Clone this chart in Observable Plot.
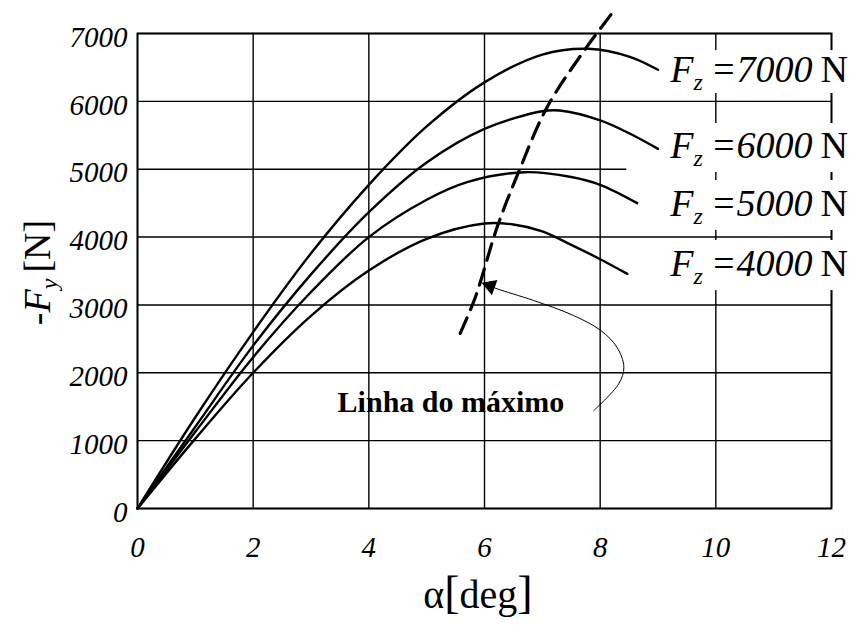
<!DOCTYPE html>
<html>
<head>
<meta charset="utf-8">
<script src="https://cdn.jsdelivr.net/npm/d3@7"></script>
<script src="https://cdn.jsdelivr.net/npm/@observablehq/plot@0.6"></script>
<style>
  html, body { margin: 0; padding: 0; background: #fff; }
  #chart svg { display: block; }
</style>
</head>
<body>
<div id="chart"></div>
<script>
// Lateral force -Fy versus slip angle alpha, one curve per vertical load Fz
const loads = [4000, 5000, 6000, 7000];

const alpha4000 = [0, 1, 2, 3, 4, 5, 6, 6.5, 7, 7.5, 8, 8.47];
const fy4000    = [0, 1030, 2000, 2840, 3507, 3975, 4200, 4185, 4085, 3885, 3674, 3458];

const alpha5000 = [0, 1, 2, 3, 4, 5, 5.7, 6.7, 7.5, 8, 8.64];
const fy5000    = [0, 1130, 2230, 3190, 4000, 4550, 4810, 4956, 4885, 4770, 4500];

const alpha6000 = [0, 1, 2, 3, 4, 5, 6, 7, 7.3, 8, 8.5, 9];
const fy6000    = [0, 1205, 2400, 3450, 4367, 5100, 5595, 5855, 5865, 5720, 5530, 5300];

const alpha7000 = [0, 1, 2, 3, 4, 5, 6, 7, 7.8, 8.5, 9];
const fy7000    = [0, 1345, 2600, 3760, 4770, 5630, 6280, 6690, 6775, 6660, 6465];

// Locus of the peak of each curve ("Linha do máximo")
const maxAlpha = [5.58, 5.84, 6.22, 6.6, 7.08, 7.75, 8.27];
const maxFy    = [2580, 3110, 4150, 4980, 5910, 6780, 7370];

// Curved pointer from the note to the locus
const pointerAlpha = [7.89, 8.32, 8.41, 8.29, 8.01, 7.54, 6.85, 6.22, 6.1];
const pointerFy    = [1444, 1837, 2082, 2377, 2623, 2844, 3065, 3237, 3278];
const pointerHead  = {alpha: 6.1, fy: 3278};

const note = {alpha: 3.46, fy: 1560, text: "Linha do máximo"};

// Curve labels on the right: anchor (alpha, Fy) of each label baseline
const labelAlpha = [9.22, 9.22, 9.22, 9.22];
const labelFy    = [3419, 4303, 5158, 6282];

// White panels behind the curve labels
const panelX1 = [9.04, 9.04, 8.46, 9.08];
const panelY1 = [3212, 4097, 4951, 6116];
const panelY2 = [3949, 4833, 5673, 6749];

const xTicks = [0, 2, 4, 6, 8, 10, 12];
const yTicks = [0, 1000, 2000, 3000, 4000, 5000, 6000, 7000];

const series = {4000: [alpha4000, fy4000], 5000: [alpha5000, fy5000],
                6000: [alpha6000, fy6000], 7000: [alpha7000, fy7000]};
const rows = loads.flatMap(load => {
  const [a, f] = series[load];
  return a.map((v, i) => ({load, alpha: v, fy: f[i]}));
});
const maxRows = maxAlpha.map((v, i) => ({alpha: v, fy: maxFy[i]}));
const pointerRows = pointerAlpha.map((v, i) => ({alpha: v, fy: pointerFy[i]}));
const panels = panelX1.map((v, i) => ({x1: v, x2: 12.6, y1: panelY1[i], y2: panelY2[i]}));

const serif = "'Liberation Serif', 'Times New Roman', serif";

const plot = Plot.plot({
  width: 855,
  height: 625,
  marginLeft: 137,
  marginRight: 24,
  marginTop: 33,
  marginBottom: 117,
  style: {fontFamily: serif, background: "#fff", color: "#000"},
  x: {domain: [0, 12]},
  y: {domain: [0, 7000]},
  marks: [
    Plot.gridX(xTicks, {stroke: "#000", strokeOpacity: 1, strokeWidth: 1.4}),
    Plot.gridY(yTicks, {stroke: "#000", strokeOpacity: 1, strokeWidth: 1.4}),
    Plot.frame({stroke: "#000", strokeWidth: 1.8}),
    Plot.rect(panels, {x1: "x1", x2: "x2", y1: "y1", y2: "y2", fill: "#fff"}),
    Plot.line(rows, {x: "alpha", y: "fy", z: "load", curve: "catmull-rom",
                     stroke: "#000", strokeWidth: 2.4}),
    Plot.line(maxRows, {x: "alpha", y: "fy", curve: "catmull-rom", stroke: "#000",
                        strokeWidth: 3.2, strokeDasharray: "17,9"}),
    Plot.line(pointerRows, {x: "alpha", y: "fy", curve: "catmull-rom", stroke: "#000",
                            strokeWidth: 1}),
    Plot.dot([pointerHead], {x: "alpha", y: "fy", symbol: "triangle", r: 6,
                             fill: "#000", stroke: null, rotate: -70}),
    Plot.text([note], {x: "alpha", y: "fy", text: "text", textAnchor: "start",
                       fontWeight: "bold", fontSize: 30, fill: "#000"}),
    Plot.axisX(xTicks, {tickSize: 0, tickPadding: 28, fontSize: 29,
                        fontStyle: "italic", label: null, tickFormat: d => String(d)}),
    Plot.axisY(yTicks, {tickSize: 0, tickPadding: 10, fontSize: 29,
                        fontStyle: "italic", label: null, dy: 4, tickFormat: d => String(d)})
  ]
});

document.getElementById("chart").appendChild(plot);

// Rich-text annotations (subscripts) positioned through the plot's scales
const svg = d3.select(plot);
const sx = plot.scale("x"), sy = plot.scale("y");

loads.forEach((load, i) => {
  const t = svg.append("text")
    .attr("x", sx.apply(labelAlpha[i]))
    .attr("y", sy.apply(labelFy[i]))
    .attr("text-anchor", "start")
    .attr("font-family", serif)
    .attr("font-size", 38)
    .attr("fill", "#000");
  t.append("tspan").attr("font-style", "italic").text("F");
  t.append("tspan").attr("font-style", "italic").attr("font-size", 24)
    .attr("dx", 0).attr("dy", 8).text("z");
  t.append("tspan").attr("font-style", "italic").attr("dx", 8).attr("dy", -8)
    .text("=" + load);
  t.append("tspan").attr("dx", 8).text("N");
});

// y-axis title: -F_y [N]
const yTitle = svg.append("text")
  .attr("transform", `translate(50,${(sy.apply(0) + sy.apply(7000)) / 2 + 2}) rotate(-90)`)
  .attr("text-anchor", "middle")
  .attr("font-family", serif)
  .attr("font-size", 38)
  .attr("fill", "#000");
yTitle.append("tspan").text("-");
yTitle.append("tspan").attr("font-style", "italic").text("F");
yTitle.append("tspan").attr("font-style", "italic").attr("font-size", 24)
  .attr("dy", 7).text("y");
yTitle.append("tspan").attr("dy", -7).attr("dx", 6).text("[N]");

// x-axis title: α[deg]
const xTitle = svg.append("text")
  .attr("x", (sx.apply(0) + sx.apply(12)) / 2 - 6)
  .attr("y", 608)
  .attr("text-anchor", "middle")
  .attr("font-family", serif)
  .attr("font-size", 40)
  .attr("fill", "#000");
xTitle.append("tspan").text("α");
xTitle.append("tspan").attr("font-size", 46).text("[");
xTitle.append("tspan").text("deg");
xTitle.append("tspan").attr("font-size", 46).text("]");
</script>
</body>
</html>
